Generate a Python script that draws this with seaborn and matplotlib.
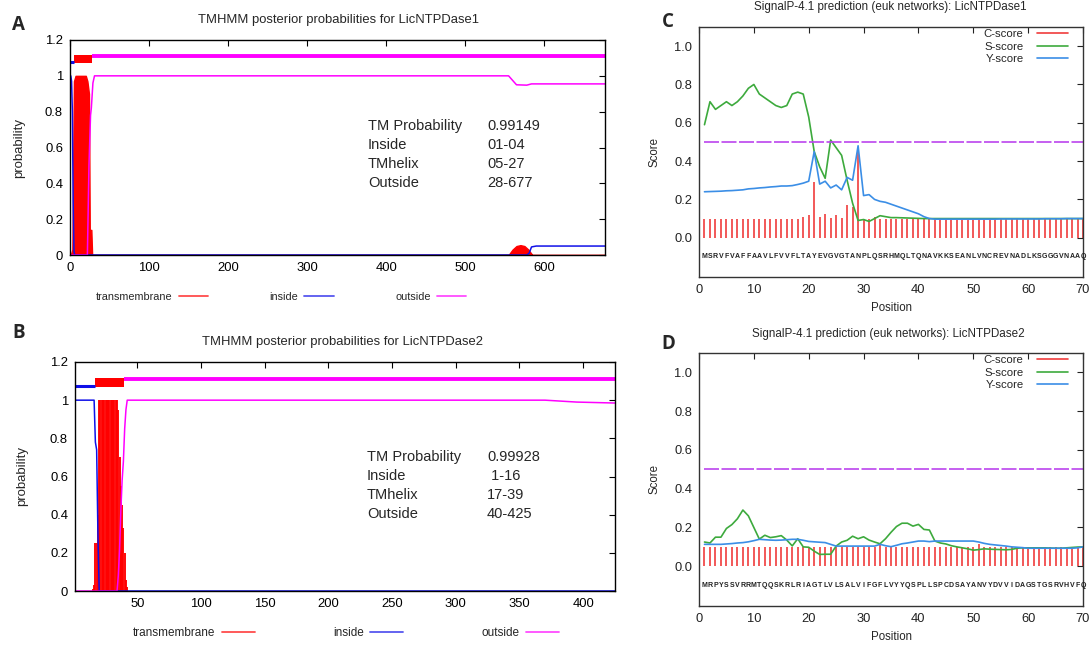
import numpy as np
import matplotlib
matplotlib.use("Agg")
import matplotlib.pyplot as plt
import seaborn as sns
from matplotlib.lines import Line2D

# ---------------- data ----------------
# Panel A : TMHMM posterior probabilities, LicNTPDase1 (677 aa)
a_tm_res = [1, 3, 4, 5, 7, 14, 20, 22, 24, 25, 27, 28, 555, 560, 565, 570, 575, 580, 585, 677]
a_tm_val = [0.0, 0.03, 0.5, 0.97, 1.0, 1.0, 1.0, 0.97, 0.9, 0.14, 0.14, 0.0,
            0.0, 0.03, 0.05, 0.055, 0.05, 0.03, 0.0, 0.0]
a_in_res = [1, 2, 3, 4, 5, 6, 578, 581, 584, 590, 677]
a_in_val = [1.0, 0.97, 0.8, 0.3, 0.02, 0.0, 0.0, 0.01, 0.045, 0.05, 0.05]
a_out_res = [1, 22, 24, 26, 27, 29, 31, 555, 559, 565, 578, 584, 677]
a_out_val = [0.0, 0.0, 0.5, 0.78, 0.82, 0.96, 1.0, 1.0, 0.98, 0.95, 0.948, 0.955, 0.955]
a_inside_seg = (1, 4)
a_tmhelix_seg = (5, 27)
a_outside_seg = (28, 677)
a_info_vals = ["0.99149", "01-04", "05-27", "28-677"]

# Panel B : TMHMM posterior probabilities, LicNTPDase2 (425 aa)
b_tm_res = list(range(14, 43))
b_tm_val = [0.0, 0.01, 0.03, 0.25, 0.25, 0.4, 1.0, 1.0, 1.0, 1.0, 1.0, 1.0, 1.0, 1.0,
            1.0, 1.0, 1.0, 1.0, 1.0, 1.0, 1.0, 0.95, 0.7, 0.55, 0.45, 0.33, 0.2, 0.06, 0.02]
b_in_res = [1, 16, 17, 18, 19, 20, 425]
b_in_val = [1.0, 1.0, 0.78, 0.74, 0.3, 0.0, 0.0]
b_out_res = [1, 34, 35, 36, 37, 38, 39, 40, 41, 42, 370, 395, 425]
b_out_val = [0.0, 0.0, 0.08, 0.22, 0.42, 0.58, 0.68, 0.85, 0.95, 1.0, 1.0, 0.99, 0.985]
b_inside_seg = (1, 16)
b_tmhelix_seg = (17, 39)
b_outside_seg = (40, 425)
b_info_vals = ["0.99928", " 1-16", "17-39", "40-425"]

info_keys = ["TM Probability", "Inside", "TMhelix", "Outside"]
tm_legend = ["transmembrane", "inside", "outside"]

# Panel C : SignalP-4.1, LicNTPDase1
c_seq = "MSRVFVAFFAAVLFVVFLTAYEVGVGTANPLQSRHMQLTQNAVKKSEANLVNCREVNADLKSGGGVNAAQ"
c_cscore = ([0.10] * 18 +
            [0.11, 0.12, 0.29, 0.11, 0.125, 0.105, 0.12, 0.105, 0.17, 0.16, 0.46,
             0.10, 0.10, 0.11, 0.10] +
            [0.10] * 37)
c_sscore = [0.59, 0.71, 0.67, 0.69, 0.71, 0.69, 0.71, 0.74, 0.78, 0.80,
            0.75, 0.73, 0.71, 0.69, 0.68, 0.69, 0.75, 0.76, 0.75, 0.63,
            0.45, 0.37, 0.31, 0.51, 0.47, 0.43, 0.30, 0.18, 0.09, 0.095,
            0.085, 0.10, 0.115, 0.11, 0.105, 0.105, 0.104, 0.103, 0.102, 0.101,
            0.10, 0.10, 0.10, 0.10, 0.10, 0.10, 0.10, 0.10, 0.10, 0.10,
            0.10, 0.10, 0.10, 0.10, 0.10, 0.10, 0.10, 0.10, 0.10, 0.10,
            0.10, 0.10, 0.10, 0.10, 0.10, 0.10, 0.10, 0.10, 0.10, 0.10]
c_yscore = [0.24, 0.241, 0.242, 0.243, 0.245, 0.246, 0.248, 0.25, 0.255, 0.257,
            0.26, 0.262, 0.265, 0.267, 0.27, 0.27, 0.272, 0.278, 0.285, 0.295,
            0.45, 0.28, 0.295, 0.26, 0.275, 0.25, 0.315, 0.30, 0.48, 0.22,
            0.225, 0.20, 0.19, 0.185, 0.175, 0.165, 0.155, 0.145, 0.135, 0.125,
            0.11, 0.10, 0.097, 0.097, 0.097, 0.097, 0.097, 0.097, 0.097, 0.097,
            0.097, 0.097, 0.097, 0.097, 0.098, 0.098, 0.098, 0.098, 0.098, 0.098,
            0.098, 0.098, 0.099, 0.099, 0.099, 0.099, 0.10, 0.10, 0.10, 0.10]

# Panel D : SignalP-4.1, LicNTPDase2
d_seq = "MRPYSSVRRMTQQSKRLRIAGTLVLSALVIFGFLVYYQSPLLSPCDSAYANVYDVVIDAGSTGSRVHVFQ"
d_cscore = [0.10] * 32 + [0.11] + [0.10] * 17 + [0.115] + [0.10] * 19
d_sscore = [0.125, 0.12, 0.15, 0.15, 0.195, 0.215, 0.245, 0.29, 0.26, 0.20,
            0.14, 0.16, 0.148, 0.152, 0.158, 0.135, 0.105, 0.142, 0.10, 0.098,
            0.078, 0.061, 0.062, 0.062, 0.104, 0.125, 0.134, 0.155, 0.142, 0.152,
            0.135, 0.125, 0.116, 0.142, 0.175, 0.205, 0.222, 0.222, 0.207, 0.216,
            0.19, 0.187, 0.13, 0.12, 0.115, 0.106, 0.10, 0.095, 0.09, 0.083,
            0.086, 0.09, 0.088, 0.087, 0.086, 0.085, 0.087, 0.093, 0.095, 0.095,
            0.095, 0.095, 0.095, 0.094, 0.093, 0.093, 0.095, 0.097, 0.099, 0.10]
d_yscore = [0.113, 0.113, 0.113, 0.113, 0.115, 0.117, 0.12, 0.122, 0.126, 0.132,
            0.139, 0.137, 0.135, 0.134, 0.135, 0.137, 0.139, 0.139, 0.134, 0.128,
            0.126, 0.124, 0.122, 0.113, 0.104, 0.104, 0.104, 0.104, 0.104, 0.104,
            0.104, 0.104, 0.113, 0.106, 0.101, 0.108, 0.116, 0.12, 0.125, 0.13,
            0.13, 0.127, 0.13, 0.13, 0.13, 0.13, 0.13, 0.13, 0.13, 0.13,
            0.125, 0.118, 0.113, 0.11, 0.107, 0.104, 0.10, 0.098, 0.096, 0.093,
            0.093, 0.093, 0.093, 0.093, 0.093, 0.093, 0.093, 0.093, 0.095, 0.10]
sp_legend = ["C-score", "S-score", "Y-score"]

# ---------------- style ----------------
sns.set_theme(style="white")
plt.rcParams['font.family'] = ['Liberation Sans', 'DejaVu Sans']

TM_RED, TM_BLUE, TM_MAG = "#ff0000", "#1010e8", "#ff00ff"
C_RED, S_GREEN, Y_BLUE, CUT = "#f03c3c", "#3daa3d", "#3b8ee6", "#bb44ee"
W, H = 1089, 646

fig = plt.figure(figsize=(W / 100, H / 100), dpi=100)


def fx(px):
    return px / W


def fy(py):
    return 1 - py / H


def tmhmm(ax, L0, L1, xticks, tm_res, tm_val, impulses, in_res, in_val, out_res, out_val,
          inside_seg, tm_seg, out_seg, info_vals, title, title_xy, label, label_xy,
          info_x, info_y0, leg_xy, leg_fs, leg_cs, leg_hl, ylab_x):
    if impulses:
        ax.vlines(tm_res, 0, tm_val, color=TM_RED, lw=1.35)
    else:
        ax.fill_between(tm_res, 0, tm_val, color=TM_RED, lw=1.0, edgecolor=TM_RED)
    sns.lineplot(x=in_res, y=in_val, ax=ax, color=TM_BLUE, lw=1.1, estimator=None, sort=False)
    sns.lineplot(x=out_res, y=out_val, ax=ax, color=TM_MAG, lw=1.1, estimator=None, sort=False)
    # topology bar
    ax.hlines(1.075, inside_seg[0] - 0.5, inside_seg[1] + 0.5, color=TM_BLUE, lw=2.2)
    ax.fill_between([tm_seg[0] - 0.5, tm_seg[1] + 0.5], 1.07, 1.115, color=TM_RED, lw=0)
    ax.hlines(1.11, out_seg[0] - 0.5, out_seg[1], color=TM_MAG, lw=2.8)
    ax.set_xlim(L0, L1)
    ax.set_ylim(0, 1.2)
    ax.set_xticks(xticks)
    ax.set_xticklabels([str(t) for t in xticks])
    yt = [0, 0.2, 0.4, 0.6, 0.8, 1.0, 1.2]
    ax.set_yticks(yt)
    ax.set_yticklabels(["0", "0.2", "0.4", "0.6", "0.8", "1", "1.2"])
    ax.tick_params(direction="in", top=True, right=True, length=4, width=0.8,
                   labelsize=9.4, pad=5, colors="black")
    for s in ax.spines.values():
        s.set_color("black")
        s.set_linewidth(1.0)
    ax.set_ylabel("probability", fontsize=9.5)
    ax.yaxis.set_label_coords(ylab_x, 0.5)
    ax.set_xlabel("")
    fig.text(fx(title_xy[0]), fy(title_xy[1]), title, ha="center", va="center", fontsize=9.4)
    fig.text(fx(label_xy[0]), fy(label_xy[1]), label, ha="center", va="center",
             fontsize=13.5, fontweight="bold", family=["Open Sans", "DejaVu Sans"])
    for i, (k, v) in enumerate(zip(info_keys, info_vals)):
        yy = fy(info_y0 + 19 * i)
        fig.text(fx(info_x[0]), yy, k, ha="left", va="center", fontsize=10.5)
        fig.text(fx(info_x[1]), yy, v, ha="left", va="center", fontsize=10.5)
    handles = [Line2D([], [], color=c, lw=1.3, alpha=0.7) for c in (TM_RED, TM_BLUE, TM_MAG)]
    fig.legend(handles, tm_legend, loc="center", bbox_to_anchor=(fx(leg_xy[0]), fy(leg_xy[1])),
               ncol=3, markerfirst=False, frameon=False, fontsize=leg_fs,
               columnspacing=leg_cs, handlelength=leg_hl, handletextpad=0.55,
               borderpad=0, borderaxespad=0)


def signalp(ax, seq, cs, ss, ys, title, title_xy, label, label_xy):
    pos = np.arange(1, len(seq) + 1)
    ax.vlines(pos, 0, cs, color=C_RED, lw=1.2)
    sns.lineplot(x=pos, y=ss, ax=ax, color=S_GREEN, lw=1.2, estimator=None)
    sns.lineplot(x=pos, y=ys, ax=ax, color=Y_BLUE, lw=1.2, estimator=None)
    ax.hlines(0.5, pos[0], pos[-1] + 1, color=CUT, lw=1.2, linestyles=(0, (9, 1.5)))
    for p, ch in zip(pos, seq):
        ax.text(p, -0.1, ch, ha="center", va="center", fontsize=5.0, fontweight="bold",
                color="#222222")
    ax.set_xlim(0, 70)
    ax.set_ylim(-0.205, 1.1)
    ax.set_xticks(range(0, 71, 10))
    ax.set_yticks([0, 0.2, 0.4, 0.6, 0.8, 1.0])
    ax.set_yticklabels(["0.0", "0.2", "0.4", "0.6", "0.8", "1.0"])
    ax.tick_params(direction="in", top=True, right=True, length=4, width=0.8,
                   labelsize=9.3, pad=5, colors="#222222")
    for s in ax.spines.values():
        s.set_color("#333333")
        s.set_linewidth(1.0)
    ax.set_xlabel("Position", fontsize=8.3)
    ax.xaxis.set_label_coords(0.5, -0.10)
    ax.set_ylabel("Score", fontsize=8.3)
    ax.yaxis.set_label_coords(-0.10, 0.5)
    handles = [Line2D([], [], color=c, lw=1.2) for c in (C_RED, S_GREEN, Y_BLUE)]
    ax.legend(handles, sp_legend, loc="upper right", bbox_to_anchor=(1 - 15 / 384, 1 - 2 / 250),
              markerfirst=False, frameon=False, fontsize=8.2, handlelength=2.7,
              handletextpad=1.2, labelspacing=0.22, borderpad=0, borderaxespad=0)
    fig.text(fx(title_xy[0]), fy(title_xy[1]), title, ha="center", va="center", fontsize=8.4)
    fig.text(fx(label_xy[0]), fy(label_xy[1]), label, ha="center", va="center",
             fontsize=13.5, fontweight="bold", family=["Open Sans", "DejaVu Sans"])


axA = fig.add_axes([fx(70), fy(255), fx(535), 215 / H])
axB = fig.add_axes([fx(75), fy(591), fx(540), 229 / H])
axC = fig.add_axes([fx(699), fy(277), fx(384), 250 / H])
axD = fig.add_axes([fx(699), fy(606), fx(384), 253 / H])

tmhmm(axA, 0, 677, list(range(0, 601, 100)), a_tm_res, a_tm_val, False,
      a_in_res, a_in_val, a_out_res, a_out_val, a_inside_seg, a_tmhelix_seg, a_outside_seg,
      a_info_vals, "TMHMM posterior probabilities for LicNTPDase1", (338, 20), "A", (18, 25),
      (368, 487), 126, (281, 297), 7.8, 5.7, 2.7, -0.084)
tmhmm(axB, 1, 425, list(range(50, 401, 50)), b_tm_res, b_tm_val, True,
      b_in_res, b_in_val, b_out_res, b_out_val, b_inside_seg, b_tmhelix_seg, b_outside_seg,
      b_info_vals, "TMHMM posterior probabilities for LicNTPDase2", (343, 342), "B", (19, 333),
      (367, 487), 457, (346, 633), 8.5, 6.6, 2.8, -0.087)
signalp(axC, c_seq, c_cscore, c_sscore, c_yscore,
        "SignalP-4.1 prediction (euk networks): LicNTPDase1", (890, 7), "C", (668, 22))
signalp(axD, d_seq, d_cscore, d_sscore, d_yscore,
        "SignalP-4.1 prediction (euk networks): LicNTPDase2", (888, 334), "D", (668, 344))

fig.savefig("out.png", dpi=100)
